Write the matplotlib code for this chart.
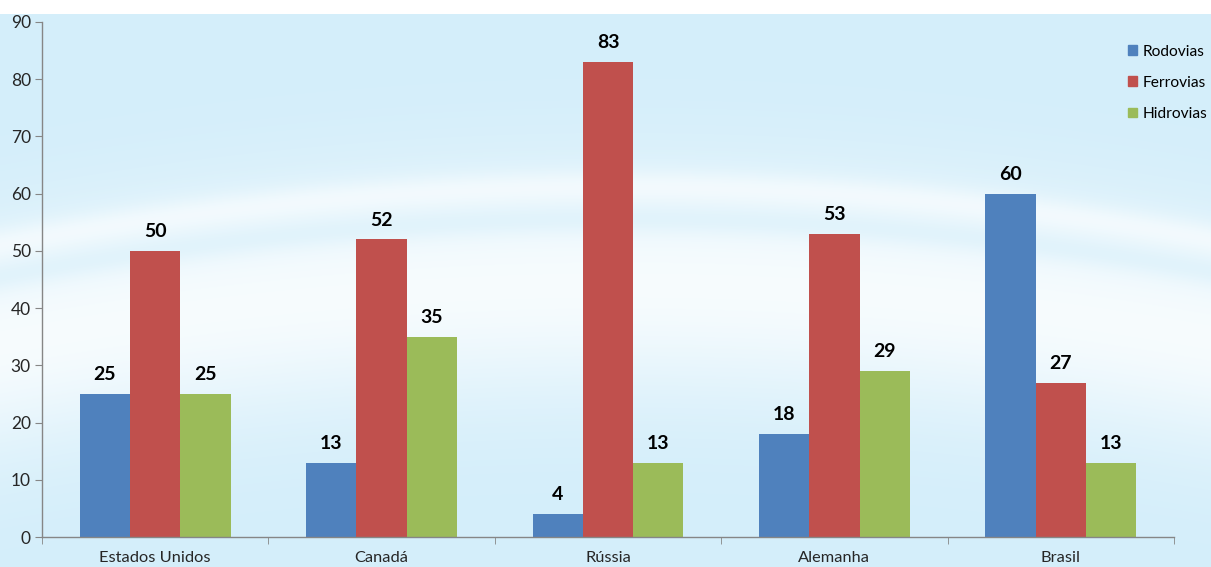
import numpy as np
import matplotlib.pyplot as plt
from matplotlib.patches import Patch

plt.rcParams['font.family'] = ['Lato', 'DejaVu Sans']

# data
paises = ['Estados Unidos', 'Canadá', 'Rússia', 'Alemanha', 'Brasil']
rodovias = [25, 13, 4, 18, 60]
ferrovias = [50, 52, 83, 53, 27]
hidrovias = [25, 35, 13, 29, 13]
series_names = ['Rodovias', 'Ferrovias', 'Hidrovias']
cores = ['#4F81BD', '#C0504D', '#9BBB59']

W, H = 1211, 567
fig = plt.figure(figsize=(W / 100, H / 100), dpi=100)
fig.patch.set_facecolor('white')

# soft blue background with a pale swoosh
bg = fig.add_axes([0, 0, 1, (H - 14) / H], zorder=0)
xx, yy = np.meshgrid(np.arange(W), np.arange(14, H))
yc = 185 + 1.5e-4 * (xx - 620) ** 2
white = (0.8 * np.exp(-((yy - yc - 100) / 110) ** 2)
         + 0.35 * np.exp(-((yy - yc) / 16) ** 2)
         - 0.25 * np.exp(-((yy - yc - 35) / 14) ** 2))
white = np.clip(white, 0, 0.9)
base = np.array([212, 238, 250]) / 255
img = base[None, None, :] * (1 - white[..., None]) + white[..., None]
bg.imshow(img, aspect='auto', extent=[0, W, H, 14])
bg.axis('off')

ax = fig.add_axes([42 / W, 30 / H, (1174 - 42) / W, (537 - 22) / H], zorder=1)
ax.set_facecolor('none')

x = np.arange(len(paises))
w = 0.222
for i, (vals, cor) in enumerate(zip([rodovias, ferrovias, hidrovias], cores)):
    pos = x + (i - 1) * w
    ax.bar(pos, vals, width=w, color=cor, label=series_names[i], zorder=2)
    for px, v in zip(pos, vals):
        ax.annotate(str(v), (px, v), xytext=(0, 10), textcoords='offset points',
                    ha='center', va='baseline', fontsize=14, fontweight='bold',
                    color='black')

ax.set_xlim(-0.5, len(paises) - 0.5)
ax.set_ylim(0, 90)
ax.set_yticks(range(0, 91, 10))
ax.set_xticks(x)
ax.set_xticklabels(paises)
ax.set_xticks(np.arange(-0.5, len(paises), 1), minor=True)
ax.tick_params(axis='x', which='major', length=0, pad=10, labelsize=11.8, labelcolor='#262626')
ax.tick_params(axis='x', which='minor', length=5, color='#868686', direction='out')
ax.tick_params(axis='y', length=5, color='#868686', pad=3, labelsize=12.5, labelcolor='#262626')
for s in ['top', 'right']:
    ax.spines[s].set_visible(False)
for s in ['left', 'bottom']:
    ax.spines[s].set_color('#868686')
    ax.spines[s].set_linewidth(1.0)

handles = [Patch(color=c) for c in cores]
fig.legend(handles, series_names, loc='upper left', bbox_to_anchor=(1120 / W, 1 - 37 / H),
           frameon=False, fontsize=11.2, handlelength=0.6, handleheight=0.6,
           handletextpad=0.35, labelspacing=1.1, borderpad=0)

fig.savefig('out.png', dpi=100)
